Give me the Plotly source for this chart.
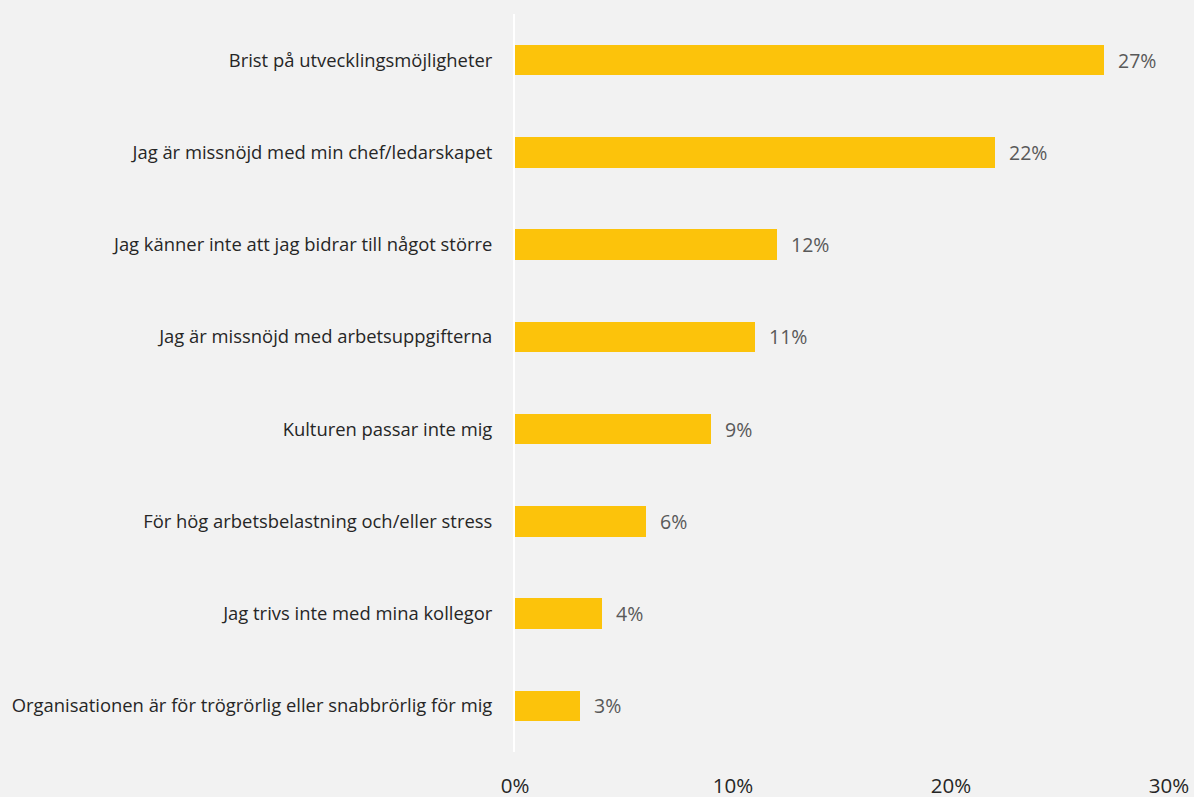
import plotly.graph_objects as go

categories = [
    "Brist på utvecklingsmöjligheter",
    "Jag är missnöjd med min chef/ledarskapet",
    "Jag känner inte att jag bidrar till något större",
    "Jag är missnöjd med arbetsuppgifterna",
    "Kulturen passar inte mig",
    "För hög arbetsbelastning och/eller stress",
    "Jag trivs inte med mina kollegor",
    "Organisationen är för trögrörlig eller snabbrörlig för mig",
]
values = [27, 22, 12, 11, 9, 6, 4, 3]
tick_vals = [0, 10, 20, 30]
tick_text = ["0%", "10%", "20%", "30%"]

FONT = "'Open Sans', Lato, sans-serif"
BG = "#F2F2F2"

fig = go.Figure()
fig.add_trace(go.Bar(
    x=values,
    y=categories,
    orientation="h",
    width=0.33,
    marker=dict(color="#FCC30B", line=dict(width=0)),
    hoverinfo="skip",
))

# value labels just right of each bar
for cat, v in zip(categories, values):
    fig.add_annotation(
        x=v, y=cat, text=f"{v}%", showarrow=False,
        xanchor="left", xshift=12,
        font=dict(family=FONT, size=19.5, color="#595959"),
    )

fig.update_layout(
    width=1194, height=797,
    paper_bgcolor=BG, plot_bgcolor=BG,
    margin=dict(l=515, r=25, t=14, b=45),
    showlegend=False,
    bargap=0,
)
fig.update_xaxes(
    range=[0, 30], automargin=False,
    tickvals=tick_vals, ticktext=tick_text,
    showgrid=False, zeroline=False, showline=False,
    ticks="", ticklabelstandoff=19,
    tickfont=dict(family=FONT, size=20.5, color="#262626"),
)
fig.update_yaxes(
    autorange="reversed", automargin=False,
    showgrid=False, zeroline=False,
    showline=True, linecolor="white", linewidth=2,
    ticks="", ticklabelstandoff=17,
    tickfont=dict(family=FONT, size=18.4, color="#262626"),
)

fig.write_html("out.html")
